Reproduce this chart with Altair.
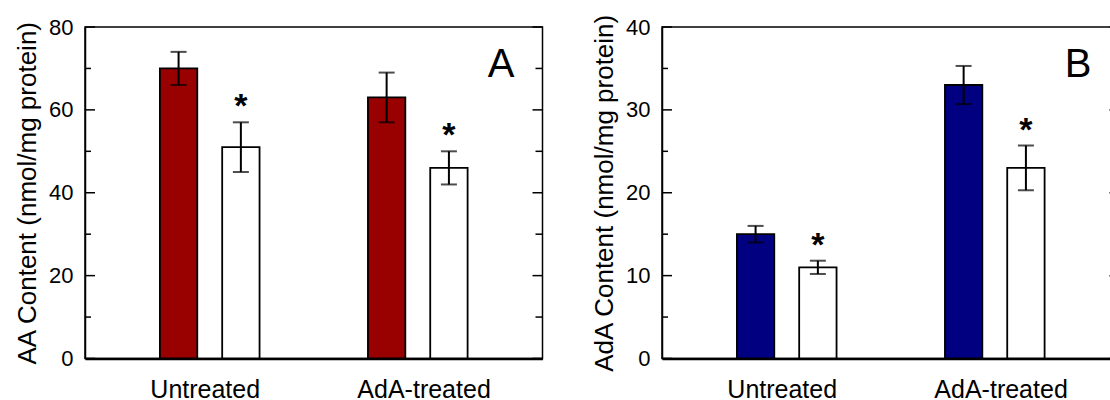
import altair as alt
import pandas as pd

# ---- data ----
groups = ["Untreated", "AdA-treated"]
series = ["Control", "Treated"]

aa_mean = [70, 51, 63, 46]
aa_lo = [66, 45, 57, 42]
aa_hi = [74, 57, 69, 50]

ada_mean = [15, 11, 33, 23]
ada_lo = [14, 10.2, 30.7, 20.3]
ada_hi = [16, 11.8, 35.3, 25.7]

significant = [False, True, False, True]

aa_major = [0, 20, 40, 60, 80]
aa_minor = [10, 30, 50, 70]
ada_major = [0, 10, 20, 30, 40]
ada_minor = [5, 15, 25, 35]

W = 457.5
H = 331.5
FONT = "Liberation Sans"


def panel(mean, lo, hi, color, ymax, major, minor, title, letter):
    df = pd.DataFrame({
        "group": [groups[i // 2] for i in range(4)],
        "series": [series[i % 2] for i in range(4)],
        "mean": mean, "lo": lo, "hi": hi, "sig": significant,
    })
    x = alt.X("group:N", sort=groups,
              scale=alt.Scale(paddingInner=0.521, paddingOuter=0.36),
              axis=alt.Axis(title=None, labelAngle=0, labelFontSize=25,
                            labelPadding=19, ticks=False, domainWidth=2.5,
                            domainColor="black", labelColor="black",
                            labelFont=FONT, grid=False,
                            labelOffset={"condition": {"test": f"datum.value === '{groups[0]}'",
                                                       "value": -4.5},
                                         "value": 6.3}))
    xo = alt.XOffset("series:N", sort=series,
                     scale=alt.Scale(paddingInner=0.4, paddingOuter=0))
    yscale = alt.Scale(domain=[0, ymax], nice=False)
    yaxis = alt.Axis(values=major, title=title, titleFontSize=26,
                     titleFontWeight="normal", titleColor="black",
                     titleFont=FONT, titlePadding=8,
                     labelFontSize=22, labelPadding=12, labelFont=FONT,
                     labelColor="black", ticks=False, grid=False,
                     domainColor="black", domainWidth=1.5)

    def Y(field):
        return alt.Y(field, scale=yscale, axis=yaxis)

    base = alt.Chart(df)
    bars = base.mark_bar(stroke="black", strokeWidth=1.8).encode(
        x=x, xOffset=xo, y=Y("mean:Q"),
        fill=alt.Fill("series:N", scale=alt.Scale(domain=series, range=[color, "white"]),
                      legend=None),
    )
    err = base.mark_rule(color="black", strokeWidth=2).encode(
        x=x, xOffset=xo, y=Y("lo:Q"), y2="hi:Q")
    cap_lo = base.mark_tick(color="black", thickness=2, size=16).encode(
        x=x, xOffset=xo, y=Y("lo:Q"))
    cap_hi = base.mark_tick(color="black", thickness=2, size=16).encode(
        x=x, xOffset=xo, y=Y("hi:Q"))
    star = base.transform_filter("datum.sig").mark_text(
        text="*", fontSize=34, fontWeight="bold", baseline="alphabetic",
        dy=-5, color="black", font=FONT).encode(
        x=x, xOffset=xo, y=Y("hi:Q"))
    lab = alt.Chart(pd.DataFrame({"letter": [letter]})).mark_text(
        fontSize=40, align="center", baseline="alphabetic", color="black",
        font=FONT).encode(text="letter:N", x=alt.value(416), y=alt.value(50))

    tmaj = alt.Chart(pd.DataFrame({"v": major}))
    tmin = alt.Chart(pd.DataFrame({"v": minor}))
    ty = Y("v:Q")
    tick_layers = [
        tmaj.mark_rule(color="black", strokeWidth=1.5).encode(y=ty, x=alt.value(0), x2=alt.value(10)),
        tmin.mark_rule(color="black", strokeWidth=1.5).encode(y=ty, x=alt.value(0), x2=alt.value(6)),
        tmaj.mark_rule(color="black", strokeWidth=1.5).encode(y=ty, x=alt.value(W - 10), x2=alt.value(W)),
        tmin.mark_rule(color="black", strokeWidth=1.5).encode(y=ty, x=alt.value(W - 7), x2=alt.value(W)),
    ]
    return alt.layer(bars, err, cap_lo, cap_hi, star, lab, *tick_layers).properties(
        width=W, height=H)


left = panel(aa_mean, aa_lo, aa_hi, "#990000", 80, aa_major, aa_minor,
             "AA Content (nmol/mg protein)", "A")
right = panel(ada_mean, ada_lo, ada_hi, "#000080", 40, ada_major, ada_minor,
              "AdA Content (nmol/mg protein)", "B")

chart = alt.hconcat(left, right, spacing=46).resolve_scale(
    fill="independent").properties(
    autosize=alt.AutoSizeParams(type="none"),
    padding={"left": 85, "top": 27, "right": 1025, "bottom": 373},
).configure(font=FONT).configure_view(stroke="black", strokeWidth=1.5)

chart.save("out.html", embed_options={"renderer": "svg", "actions": False})
